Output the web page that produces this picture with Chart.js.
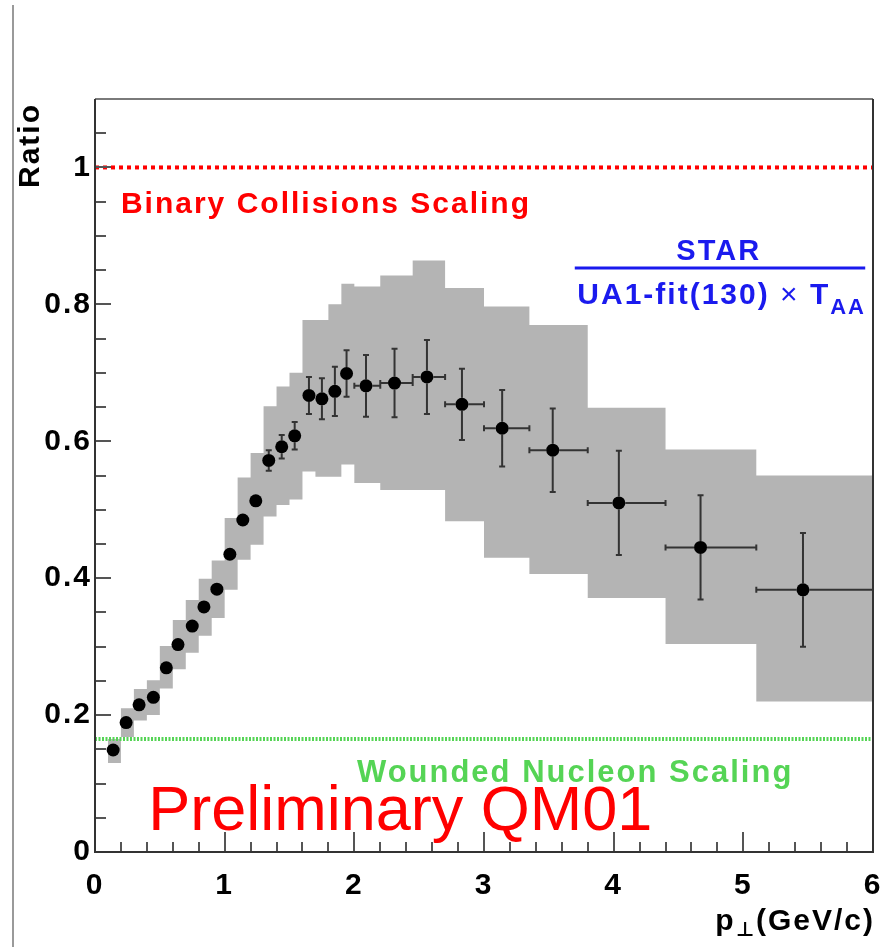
<!DOCTYPE html>
<html>
<head>
<meta charset="utf-8">
<script src="https://cdn.jsdelivr.net/npm/chart.js@4.4.1/dist/chart.umd.min.js"></script>
<style>
  html, body { margin: 0; padding: 0; background: #fff; }
  #grafico { display: block; }
</style>
</head>
<body>
<canvas id="grafico" width="884" height="947"></canvas>
<script>
// STAR / (UA1 fit x T_AA) ratio vs pT
const ptCentre = [0.14, 0.24, 0.34, 0.45, 0.55, 0.64, 0.75, 0.84, 0.94, 1.04, 1.14, 1.24, 1.34, 1.44, 1.54,
  1.65, 1.75, 1.85, 1.94, 2.09, 2.31, 2.56, 2.83, 3.14, 3.53, 4.04, 4.67, 5.46];
const ratio = [0.149, 0.189, 0.215, 0.226, 0.269, 0.303, 0.330, 0.358, 0.384, 0.435, 0.485, 0.513, 0.572, 0.592, 0.608,
  0.667, 0.662, 0.673, 0.699, 0.681, 0.685, 0.694, 0.654, 0.619, 0.587, 0.510, 0.445, 0.383];
const statErr = [0.006, 0.006, 0.006, 0.006, 0.006, 0.007, 0.007, 0.007, 0.008, 0.008, 0.009, 0.010, 0.015, 0.017, 0.020,
  0.027, 0.030, 0.036, 0.034, 0.045, 0.050, 0.054, 0.052, 0.056, 0.061, 0.076, 0.076, 0.083];
const binEdges = [0.1, 0.2, 0.3, 0.4, 0.5, 0.6, 0.7, 0.8, 0.9, 1.0, 1.1, 1.2, 1.3, 1.4, 1.5, 1.6,
  1.7, 1.8, 1.9, 2.0, 2.2, 2.45, 2.7, 3.0, 3.35, 3.8, 4.4, 5.1, 6.0];
const sysLow = [0.130, 0.168, 0.192, 0.200, 0.239, 0.267, 0.291, 0.316, 0.342, 0.383, 0.427, 0.449, 0.490, 0.507, 0.515,
  0.556, 0.548, 0.548, 0.566, 0.539, 0.529, 0.529, 0.483, 0.430, 0.406, 0.371, 0.304, 0.220];
const sysHigh = [0.165, 0.210, 0.238, 0.251, 0.301, 0.339, 0.368, 0.399, 0.426, 0.488, 0.547, 0.583, 0.651, 0.680, 0.700,
  0.777, 0.777, 0.800, 0.830, 0.826, 0.842, 0.864, 0.824, 0.797, 0.770, 0.649, 0.588, 0.550];
const xTicks = [0, 1, 2, 3, 4, 5, 6];
const yTicks = [0, 0.2, 0.4, 0.6, 0.8, 1];
const binaryScaling = 1.0;
const woundedScaling = 0.165;

const FONT = "'Liberation Sans', 'DejaVu Sans', sans-serif";
const BLUE = "#1a1aee";
const GREEN = "#55d455";
const MARKER_R = 6.5;

Chart.defaults.font.family = FONT;

function bandEdge(values) {
  const pts = [];
  values.forEach((v, i) => {
    pts.push({ x: binEdges[i], y: v });
    pts.push({ x: binEdges[i + 1], y: v });
  });
  return pts;
}

function drawRuns(ctx, runs, x, y, color, alignRight) {
  ctx.fillStyle = color;
  ctx.textBaseline = "alphabetic";
  ctx.textAlign = "left";
  let total = 0;
  runs.forEach(r => { ctx.font = r.font; total += ctx.measureText(r.text).width; });
  let cx = alignRight ? x - total : x;
  runs.forEach(r => {
    ctx.font = r.font;
    ctx.fillText(r.text, cx, y + (r.dy || 0));
    cx += ctx.measureText(r.text).width;
  });
}

const spacing = {
  id: "spacing",
  beforeUpdate(chart) { chart.ctx.letterSpacing = "2px"; },
  beforeDraw(chart) {
    const ctx = chart.ctx;
    ctx.letterSpacing = "2px";
    ctx.save();
    ctx.strokeStyle = "#9a9a9a";
    ctx.lineWidth = 2;
    ctx.beginPath();
    ctx.moveTo(13, 5);
    ctx.lineTo(13, 947);
    ctx.stroke();
    ctx.restore();
  }
};

const errorBars = {
  id: "errorBars",
  beforeDatasetDraw(chart, args) {
    if (args.index !== 0) return;
    const { ctx, scales: { x, y } } = chart;
    ctx.save();
    ctx.strokeStyle = "#333";
    ctx.lineWidth = 2;
    ctx.beginPath();
    ptCentre.forEach((p, i) => {
      const px = x.getPixelForValue(p);
      const py = y.getPixelForValue(ratio[i]);
      const ends = [
        [x.getPixelForValue(binEdges[i]), py, true],
        [x.getPixelForValue(binEdges[i + 1]), py, true],
        [px, y.getPixelForValue(ratio[i] - statErr[i]), false],
        [px, y.getPixelForValue(ratio[i] + statErr[i]), false]
      ];
      ends.forEach(([ex, ey, horiz]) => {
        const len = Math.hypot(ex - px, ey - py);
        if (len <= MARKER_R + 2) return;
        ctx.moveTo(px + (ex - px) * MARKER_R / len, py + (ey - py) * MARKER_R / len);
        ctx.lineTo(ex, ey);
        if (horiz) { ctx.moveTo(ex, ey - 3); ctx.lineTo(ex, ey + 3); }
        else { ctx.moveTo(ex - 3, ey); ctx.lineTo(ex + 3, ey); }
      });
    });
    ctx.stroke();
    ctx.restore();
  }
};

const frame = {
  id: "frame",
  afterDatasetsDraw(chart) {
    const { ctx, chartArea: a, scales: { x, y } } = chart;
    ctx.save();
    ctx.lineWidth = 2;
    ctx.strokeStyle = "#555";
    ctx.beginPath();
    for (let v = 0; v <= 6.0001; v += 0.2) {
      const px = Math.round(x.getPixelForValue(v));
      const major = Math.abs(v - Math.round(v)) < 1e-6;
      ctx.moveTo(px, a.bottom);
      ctx.lineTo(px, a.bottom - (major ? 20 : 10));
    }
    for (let v = 0; v <= 1.1001; v += 0.05) {
      const py = Math.round(y.getPixelForValue(v));
      const major = Math.abs(v / 0.2 - Math.round(v / 0.2)) < 1e-6;
      ctx.moveTo(a.left, py);
      ctx.lineTo(a.left + (major ? 16 : 11), py);
    }
    ctx.stroke();
    ctx.strokeStyle = "#7a7a7a";
    ctx.beginPath();
    ctx.moveTo(a.left, a.top);
    ctx.lineTo(a.right, a.top);
    ctx.stroke();
    ctx.strokeStyle = "#333";
    ctx.beginPath();
    ctx.moveTo(a.left, a.top);
    ctx.lineTo(a.left, a.bottom);
    ctx.lineTo(a.right, a.bottom);
    ctx.lineTo(a.right, a.top);
    ctx.stroke();
    ctx.restore();
  }
};

const labels = {
  id: "labels",
  afterDraw(chart) {
    const { ctx, scales: { x, y } } = chart;
    ctx.save();
    ctx.letterSpacing = "2px";

    drawRuns(ctx, [{ text: "Binary Collisions Scaling", font: `bold 30px ${FONT}` }],
      x.getPixelForValue(0.2), y.getPixelForValue(0.934), "#ff0000");

    ctx.textAlign = "center";
    ctx.font = `bold 29px ${FONT}`;
    ctx.fillStyle = BLUE;
    ctx.fillText("STAR", x.getPixelForValue(4.81), y.getPixelForValue(0.865));

    ctx.strokeStyle = BLUE;
    ctx.lineWidth = 3;
    ctx.beginPath();
    ctx.moveTo(x.getPixelForValue(3.70), y.getPixelForValue(0.853));
    ctx.lineTo(x.getPixelForValue(5.94), y.getPixelForValue(0.853));
    ctx.stroke();

    drawRuns(ctx, [
      { text: "UA1-fit(130) ", font: `bold 30px ${FONT}` },
      { text: "\u00d7", font: `30px ${FONT}` },
      { text: " T", font: `bold 30px ${FONT}` },
      { text: "AA", font: `bold 22px ${FONT}`, dy: 10 }
    ], x.getPixelForValue(3.72), y.getPixelForValue(0.800), BLUE);

    drawRuns(ctx, [{ text: "Wounded Nucleon Scaling", font: `bold 31px ${FONT}` }],
      x.getPixelForValue(2.02), y.getPixelForValue(0.102), GREEN);

    ctx.letterSpacing = "0px";
    drawRuns(ctx, [{ text: "Preliminary QM01", font: `63px ${FONT}` }],
      x.getPixelForValue(0.41), y.getPixelForValue(0.032), "#ff0000");
    ctx.letterSpacing = "2px";

    drawRuns(ctx, [
      { text: "p", font: `bold 30px ${FONT}` },
      { text: "\u22a5", font: `bold 20px ${FONT}`, dy: 6 },
      { text: "(GeV/c)", font: `bold 30px ${FONT}` }
    ], x.right + 2, 930, "#000", true);

    ctx.translate(31, y.top + 4);
    ctx.rotate(-Math.PI / 2);
    ctx.textAlign = "right";
    ctx.textBaseline = "middle";
    ctx.font = `bold 30px ${FONT}`;
    ctx.fillStyle = "#000";
    ctx.fillText("Ratio", 0, 0);
    ctx.restore();
  }
};

new Chart(document.getElementById("grafico"), {
  type: "scatter",
  data: {
    datasets: [
      {
        data: ptCentre.map((p, i) => ({ x: p, y: ratio[i] })),
        backgroundColor: "#000",
        borderWidth: 0,
        pointRadius: MARKER_R
      },
      {
        type: "line",
        data: [{ x: 0, y: binaryScaling }, { x: 6, y: binaryScaling }],
        borderColor: "#ff0000",
        borderWidth: 4,
        borderDash: [4, 4],
        pointRadius: 0,
        fill: false
      },
      {
        type: "line",
        data: [{ x: 0, y: woundedScaling }, { x: 6, y: woundedScaling }],
        borderColor: GREEN,
        borderWidth: 4,
        borderDash: [2, 1.5],
        pointRadius: 0,
        fill: false
      },
      {
        type: "line",
        data: bandEdge(sysHigh),
        borderWidth: 0,
        borderColor: "rgba(0,0,0,0)",
        pointRadius: 0,
        tension: 0,
        fill: false
      },
      {
        type: "line",
        data: bandEdge(sysLow),
        borderWidth: 0,
        borderColor: "rgba(0,0,0,0)",
        backgroundColor: "#b4b4b4",
        pointRadius: 0,
        tension: 0,
        fill: "-1"
      }
    ]
  },
  options: {
    responsive: false,
    animation: false,
    layout: { padding: { top: 99, right: 11, left: 0, bottom: 0 } },
    plugins: { legend: { display: false }, tooltip: { enabled: false } },
    scales: {
      x: {
        type: "linear",
        min: 0,
        max: 6,
        grid: { display: false, drawTicks: false },
        border: { display: false },
        afterFit: s => { s.height = 95; s.paddingLeft = 0; s.paddingRight = 0; },
        afterBuildTicks: s => { s.ticks = xTicks.map(v => ({ value: v })); },
        ticks: {
          autoSkip: false,
          maxRotation: 0,
          padding: 16,
          color: "#000",
          font: { size: 30, weight: "bold" },
          callback: v => String(v)
        }
      },
      y: {
        type: "linear",
        min: 0,
        max: 1.1,
        grid: { display: false, drawTicks: false },
        border: { display: false },
        afterFit: s => { s.width = 95; s.paddingTop = 0; s.paddingBottom = 0; },
        afterBuildTicks: s => { s.ticks = yTicks.map(v => ({ value: v })); },
        ticks: {
          autoSkip: false,
          padding: 3,
          color: "#000",
          font: { size: 30, weight: "bold" },
          callback: v => String(v)
        }
      }
    }
  },
  plugins: [spacing, errorBars, frame, labels]
});
</script>
</body>
</html>
